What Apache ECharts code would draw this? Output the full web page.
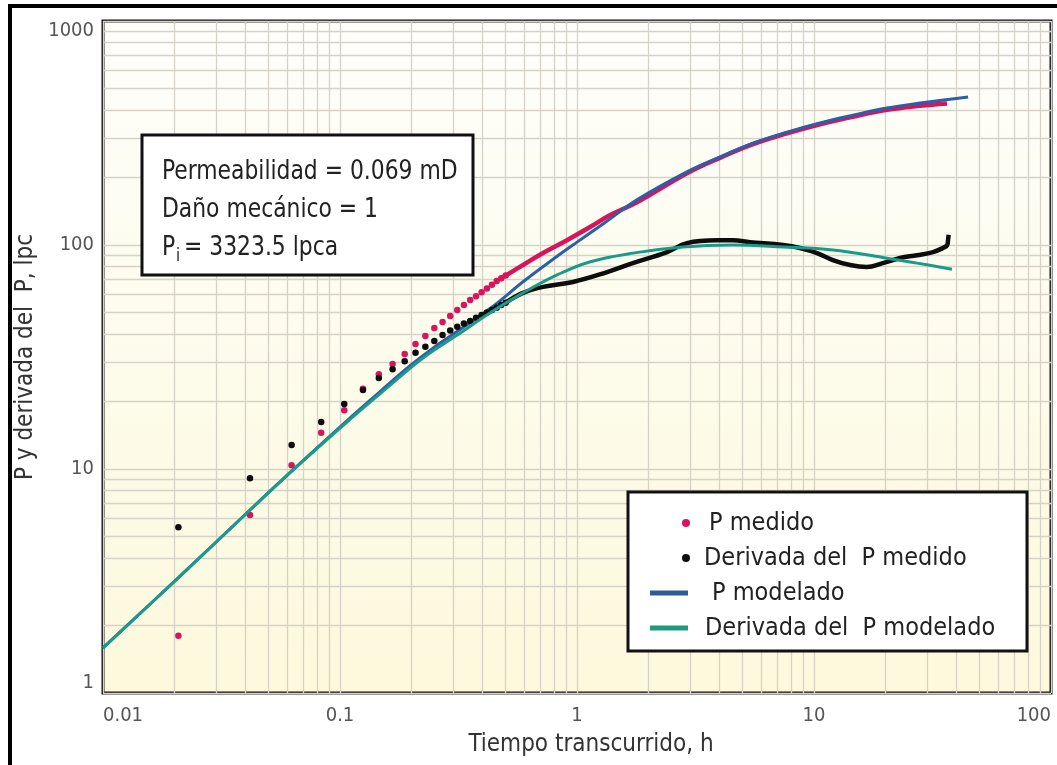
<!DOCTYPE html>
<html>
<head>
<meta charset="utf-8">
<script src="https://cdn.jsdelivr.net/npm/echarts@6/dist/echarts.min.js"></script>
<style>
html,body{margin:0;padding:0;background:#fff;}
#chart{width:1057px;height:765px;}
</style>
</head>
<body>
<div id="chart"></div>
<script>
// ---------- data ----------
const xTicks = [0.01, 0.1, 1, 10, 100];
const yTicks = [1, 10, 100, 1000];
const minorMult = [2, 3, 4, 5, 6, 7, 8, 9];

// measured points, early (distinct dots), time step ~0.0208 h
const tEarly = [0.0208,0.0417,0.0625,0.0833,0.1042,0.125,0.1458,0.1667,0.1875,0.2083,0.2292,0.25,0.2708,0.2917,0.3125,0.3333,0.3542,0.375,0.3958,0.4167,0.4375,0.4583,0.4792,0.5];
const pMedEarly = [1.80,6.23,10.4,14.5,18.3,22.8,26.5,29.4,32.6,36.1,39.2,42.6,45.3,48.2,51.3,54.0,56.8,59.0,61.5,64.0,66.5,69.0,71.0,73.0];
const dMedEarly = [5.5,9.1,12.8,16.2,19.5,22.5,25.5,27.9,30.3,33.0,35.1,37.3,39.6,41.5,43.2,44.6,45.8,47.3,48.7,50.0,51.3,52.5,54.0,55.3];

// measured points, late (dense, dots merge into a thick trace)
const tPMedLate = [0.5,0.592,0.719,0.907,1.13,1.38,1.79,2.91,4.01,5.53,7.69,10.6,14.6,20.3,28,36.4];
const pMedLate  = [73,81.4,92.1,105,120,136,155,209,245,282,315,346,374,401,418,428];
const tDMedLate = [0.5,0.592,0.719,0.962,1.34,1.72,2.4,2.91,3.9,4.55,5.37,7.4,8.73,10.3,12,14.2,16.7,19.5,23.1,27.2,31.8,35,36.5,36.8,37];
const dMedLate  = [55.3,61.1,65,68.4,75.7,83,93,102,105,105,103,100,97,92,85.7,81.4,79.8,83,87.5,90,93,97,100,106,111];

// model curves
const tPMod = [0.01,0.0213,0.0417,0.062,0.104,0.15,0.2,0.25,0.33,0.45,0.592,0.8,1.0,1.3,1.79,2.91,4.01,5.53,7.69,10.6,14.6,20.3,28,44.7];
const pMod  = [1.59,3.35,6.56,9.7,16.0,22.5,29.2,35,42.8,54,68.5,87,103,125,159,212,247,285,319,351,380,409,430,458];
const tDMod = [0.01,0.0213,0.0417,0.062,0.104,0.163,0.224,0.312,0.429,0.592,0.824,1.13,1.72,2.8,4.55,7.4,12.0,19.5,27.2,38.2];
const dMod  = [1.59,3.35,6.56,9.7,15.8,23.7,31.3,39.6,49.7,61.1,73.5,84,92,98,100,98,95,88,83,78];

const names = ['P medido', 'Derivada del  P medido', 'P modelado', 'Derivada del  P modelado'];
const infoLines = ['Permeabilidad = 0.069 mD', 'Daño mecánico = 1'];

// ---------- styling ----------
const FONT = "'Liberation Sans Narrow','DejaVu Sans Condensed','Roboto Condensed',Roboto,sans-serif";
const C_PINK = '#d6155c', C_BLACK = '#0d0d0d', C_BLUE = '#2b5fa8', C_TEAL = '#1c9a88';
const GRID_COLOR = '#d6d2c7';

const zip = (a, b) => a.map((v, i) => [v, b[i]]);

const minorX = [];
xTicks.slice(0, -1).forEach(d => minorMult.forEach(m => minorX.push({ xAxis: +(d * m).toPrecision(3) })));
const minorY = [];
yTicks.slice(0, -1).forEach(d => minorMult.forEach(m => minorY.push({ yAxis: +(d * m).toPrecision(3) })));

const fmt = v => String(+(+v).toPrecision(3));
const boxText = (x, y, text, size) => ({
  type: 'text', z: 6, x: x, y: y, scaleX: 0.9, silent: true,
  style: { text: text, fontSize: size, fontFamily: FONT, fill: '#222', verticalAlign: 'middle' }
});

const chart = echarts.init(document.getElementById('chart'), null, { renderer: 'canvas' });
chart.setOption({
  animation: false,
  backgroundColor: '#ffffff',
  textStyle: { fontFamily: FONT },
  grid: {
    left: 103, right: 6, top: 21, bottom: 72,
    show: true,
    borderColor: '#111', borderWidth: 3,
    backgroundColor: {
      type: 'linear', x: 0, y: 0, x2: 0, y2: 1,
      colorStops: [{ offset: 0, color: '#fefefb' }, { offset: 1, color: '#fcf9dc' }]
    }
  },
  xAxis: {
    type: 'log', logBase: 10, min: xTicks[0], max: xTicks[xTicks.length - 1],
    name: 'Tiempo transcurrido, h', nameLocation: 'middle', nameGap: 40,
    nameTextStyle: { fontSize: 24, color: '#333', fontFamily: FONT, padding: [0, 0, 0, 28] },
    axisLine: { show: false }, axisTick: { show: false },
    axisLabel: { fontSize: 20, color: '#555', margin: 13, fontFamily: FONT, formatter: fmt,
                 alignMinLabel: 'left', alignMaxLabel: 'right' },
    splitLine: { show: true, lineStyle: { color: GRID_COLOR, width: 1.3 } }
  },
  yAxis: {
    type: 'log', logBase: 10, min: yTicks[0], max: yTicks[yTicks.length - 1],
    name: 'P y derivada del  P, lpc', nameLocation: 'middle', nameGap: 62,
    nameTextStyle: { fontSize: 24, color: '#333', fontFamily: FONT },
    axisLine: { show: false }, axisTick: { show: false },
    axisLabel: { fontSize: 20, color: '#555', margin: 9, fontFamily: FONT, formatter: fmt,
                 verticalAlignMinLabel: 'bottom', verticalAlignMaxLabel: 'top' },
    splitLine: { show: true, lineStyle: { color: GRID_COLOR, width: 1.3 } }
  },
  legend: [
    {
      orient: 'vertical', left: 677, top: 503, itemWidth: 8, itemHeight: 8, itemGap: 5, z: 10,
      textStyle: { fontSize: 25, color: '#222', fontFamily: FONT, lineHeight: 30 },
      selectedMode: false,
      data: [
        { name: names[0], icon: 'circle', textStyle: { padding: [0, 0, 0, 14] } },
        { name: names[1], icon: 'circle', textStyle: { padding: [0, 0, 0, 9] } }
      ]
    },
    {
      orient: 'vertical', left: 645, top: 573, itemWidth: 38, itemHeight: 5, itemGap: 5, z: 10,
      textStyle: { fontSize: 25, color: '#222', fontFamily: FONT, lineHeight: 30 },
      selectedMode: false,
      data: [
        { name: names[2], icon: 'rect', textStyle: { padding: [0, 0, 0, 19] } },
        { name: names[3], icon: 'rect', textStyle: { padding: [0, 0, 0, 12] } }
      ]
    }
  ],
  graphic: [
    { type: 'rect', z: 20, silent: true, shape: { x: 10, y: 6, width: 1100, height: 820 },
      style: { fill: 'none', stroke: '#000', lineWidth: 4 } },
    { type: 'rect', z: 5, silent: true, shape: { x: 142, y: 135, width: 331, height: 140 },
      style: { fill: '#fff', stroke: '#111', lineWidth: 3 } },
    boxText(162, 172, infoLines[0], 27),
    boxText(162, 210, infoLines[1], 27),
    boxText(162, 248, 'P', 27),
    boxText(176, 256, 'i', 18),
    boxText(184, 248, '= 3323.5 lpca', 27),
    { type: 'rect', z: 5, silent: true, shape: { x: 628, y: 492, width: 399, height: 159 },
      style: { fill: '#fff', stroke: '#111', lineWidth: 3 } }
  ],
  series: [
    {
      name: 'grid-minor', type: 'line', data: [], silent: true,
      markLine: {
        silent: true, z: 1, symbol: ['none', 'none'], label: { show: false },
        lineStyle: { color: GRID_COLOR, width: 1.3, type: 'solid' },
        emphasis: { disabled: true },
        data: minorX.concat(minorY)
      }
    },
    { name: names[0], type: 'scatter', data: zip(tEarly, pMedEarly), symbolSize: 6.5, itemStyle: { color: C_PINK, opacity: 1 }, z: 3 },
    { name: names[0], type: 'line', data: zip(tPMedLate, pMedLate), smooth: 0.4, showSymbol: false,
      lineStyle: { color: C_PINK, width: 4.5 }, itemStyle: { color: C_PINK }, z: 3 },
    { name: names[2], type: 'line', data: zip(tPMod, pMod), smooth: 0.4, showSymbol: false,
      lineStyle: { color: C_BLUE, width: 3 }, itemStyle: { color: '#2c5c94' }, z: 4 },
    { name: names[1], type: 'scatter', data: zip(tEarly, dMedEarly), symbolSize: 6.5, itemStyle: { color: C_BLACK, opacity: 1 }, z: 5 },
    { name: names[1], type: 'line', data: zip(tDMedLate, dMedLate), smooth: 0.4, showSymbol: false,
      lineStyle: { color: C_BLACK, width: 4.5 }, itemStyle: { color: C_BLACK }, z: 5 },
    { name: names[3], type: 'line', data: zip(tDMod, dMod), smooth: 0.4, showSymbol: false,
      lineStyle: { color: C_TEAL, width: 3 }, itemStyle: { color: '#1e9a80' }, z: 6 }
  ]
});
</script>
</body>
</html>
